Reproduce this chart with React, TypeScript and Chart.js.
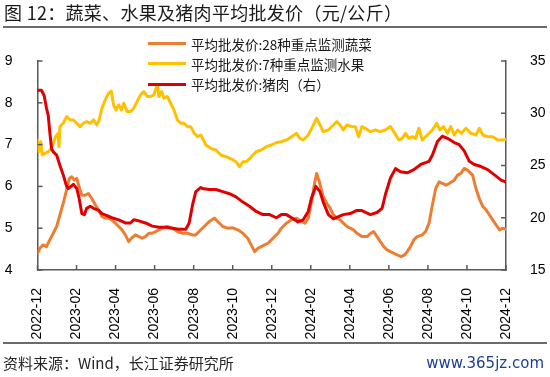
import React, { useEffect, useRef } from "react";
import { Chart, registerables } from "chart.js";

Chart.register(...registerables);

const titleText = "图 12：蔬菜、水果及猪肉平均批发价（元/公斤）";
const sourceText = "资料来源：Wind，长江证券研究所";
const watermarkText = "www.365jz.com";
const seriesNames = ["平均批发价:28种重点监测蔬菜", "平均批发价:7种重点监测水果", "平均批发价:猪肉（右）"];
const seriesColors = ["#ED7D31", "#FFC000", "#E00000"];

const tickLabels = ["2022-12", "2023-02", "2023-04", "2023-06", "2023-08", "2023-10", "2023-12", "2024-02", "2024-04", "2024-06", "2024-08", "2024-10", "2024-12"];

// [months since 2022-12, value]
const vegSeries: [number, number][] = [
  [0, 4.40], [0.12, 4.52], [0.29, 4.60], [0.46, 4.56], [0.63, 4.72], [0.81, 4.88], [0.98, 5.04], [1.15, 5.32], [1.32, 5.60], [1.49, 5.91],
  [1.63, 6.19], [1.75, 6.23], [1.89, 6.15], [2.01, 6.19], [2.13, 5.99], [2.27, 5.79], [2.44, 5.79], [2.61, 5.83], [2.78, 5.71], [2.96, 5.56],
  [3.13, 5.44], [3.30, 5.28], [3.47, 5.24], [3.64, 5.24], [3.81, 5.20], [3.99, 5.12], [4.16, 5.04], [4.33, 4.96], [4.50, 4.84], [4.67, 4.68],
  [4.81, 4.76], [5.02, 4.84], [5.19, 4.80], [5.36, 4.76], [5.53, 4.80], [5.71, 4.88], [5.88, 4.88], [6.05, 4.92], [6.22, 4.96], [6.39, 5.00],
  [6.65, 5.04], [6.91, 5.00], [7.17, 4.92], [7.42, 4.88], [7.68, 4.88], [7.94, 4.84], [8.11, 4.84], [8.28, 4.92],
  [8.54, 5.04], [8.80, 5.16], [9.06, 5.24], [9.23, 5.16], [9.49, 5.04], [9.74, 5.00], [10.00, 5.01], [10.26, 4.96], [10.52, 4.88], [10.77, 4.76],
  [10.95, 4.60], [11.12, 4.44], [11.29, 4.52], [11.46, 4.56], [11.63, 4.60], [11.81, 4.64], [11.98, 4.72], [12.15, 4.80], [12.32, 4.88], [12.49, 5.00],
  [12.75, 5.12], [13.01, 5.20], [13.27, 5.24], [13.53, 5.16], [13.70, 5.12], [13.87, 5.24], [14.04, 5.64], [14.21, 6.11], [14.30, 6.31], [14.44, 6.11],
  [14.61, 5.79], [14.81, 5.60], [14.99, 5.48], [15.16, 5.32], [15.33, 5.24], [15.50, 5.20], [15.67, 5.12], [15.85, 5.04], [16.02, 5.00], [16.19, 4.96],
  [16.36, 4.88], [16.62, 4.80],
  [16.88, 4.80], [17.08, 4.88], [17.22, 4.92], [17.39, 4.80], [17.56, 4.68], [17.74, 4.56], [17.91, 4.48], [18.08, 4.44], [18.25, 4.40], [18.42, 4.36],
  [18.63, 4.32], [18.80, 4.36], [18.94, 4.44], [19.11, 4.56], [19.28, 4.72], [19.45, 4.80], [19.71, 4.84], [19.88, 4.92], [20.06, 5.12], [20.23, 5.56],
  [20.40, 5.95], [20.57, 6.11], [20.74, 6.07], [20.92, 6.03], [21.09, 6.07], [21.35, 6.15], [21.52, 6.27], [21.69, 6.31], [21.86, 6.43], [22.03, 6.39],
  [22.29, 6.27], [22.46, 5.95], [22.63, 5.71], [22.81, 5.52], [22.98, 5.44], [23.15, 5.32], [23.32, 5.20], [23.49, 5.08], [23.67, 4.96], [23.84, 5.00],
  [24.0, 4.97],
];

const fruitSeries: [number, number][] = [
  [0, 7.11], [0.07, 6.83], [0.17, 7.07], [0.24, 6.75], [0.38, 6.79], [0.55, 6.83], [0.72, 6.91], [0.81, 7.03], [0.93, 7.19], [1.06, 7.27],
  [1.10, 6.95], [1.15, 7.43], [1.32, 7.51], [1.49, 7.67], [1.67, 7.59], [1.84, 7.59], [2.01, 7.51], [2.18, 7.43], [2.35, 7.51], [2.52, 7.55],
  [2.70, 7.51], [2.87, 7.59], [3.04, 7.47], [3.16, 7.59], [3.30, 7.87], [3.47, 8.07], [3.64, 8.23], [3.78, 8.28], [3.90, 7.95], [4.02, 7.83],
  [4.16, 7.95], [4.30, 7.83], [4.42, 7.99], [4.59, 7.79], [4.76, 7.79], [4.93, 7.87], [5.10, 8.03], [5.28, 8.19], [5.45, 8.27], [5.62, 8.15],
  [5.79, 8.15], [5.96, 8.19], [6.14, 8.43], [6.22, 8.15], [6.36, 8.27], [6.48, 8.11], [6.65, 8.15], [6.82, 7.99], [6.99, 7.83], [7.17, 7.59],
  [7.34, 7.51], [7.51, 7.51], [7.68, 7.43], [7.85, 7.43], [8.03, 7.27], [8.20, 7.19], [8.37, 7.23],
  [8.63, 6.99], [8.88, 6.91], [9.14, 6.87], [9.40, 6.75], [9.66, 6.71], [9.91, 6.66], [10.17, 6.59], [10.35, 6.47], [10.52, 6.59], [10.69, 6.59],
  [10.86, 6.66], [11.03, 6.75], [11.20, 6.83], [11.46, 6.87], [11.72, 6.95], [11.98, 6.99], [12.24, 7.05], [12.49, 7.07], [12.75, 7.11], [13.01, 7.19],
  [13.27, 7.27], [13.44, 7.15], [13.61, 7.11], [13.87, 7.23], [14.09, 7.43], [14.30, 7.63], [14.47, 7.47], [14.64, 7.31], [14.90, 7.35], [15.16, 7.47],
  [15.33, 7.55], [15.50, 7.47], [15.67, 7.35], [15.85, 7.47], [16.10, 7.43], [16.28, 7.43], [16.45, 7.19], [16.62, 7.43],
  [16.79, 7.39], [17.05, 7.31], [17.31, 7.35], [17.56, 7.31], [17.82, 7.35], [18.08, 7.43], [18.25, 7.31], [18.51, 7.11], [18.68, 7.15], [18.85, 7.27],
  [19.02, 7.15], [19.20, 7.19], [19.37, 7.15], [19.54, 7.39], [19.71, 7.11], [19.97, 7.23], [20.23, 7.35], [20.45, 7.51], [20.62, 7.35], [20.80, 7.43],
  [21.00, 7.27], [21.17, 7.43], [21.35, 7.23], [21.52, 7.35], [21.72, 7.27], [21.95, 7.39], [22.21, 7.27], [22.46, 7.23], [22.63, 7.39], [22.81, 7.23],
  [23.06, 7.19], [23.32, 7.19], [23.58, 7.11], [23.84, 7.11], [24.0, 7.12],
];

const porkSeries: [number, number][] = [
  [0, 32.2], [0.20, 32.2], [0.34, 31.7], [0.46, 30.5], [0.55, 29.8], [0.63, 28.2], [0.72, 26.6], [0.81, 26.3], [0.98, 26.0], [1.15, 25.0],
  [1.32, 24.1], [1.49, 23.0], [1.58, 22.8], [1.84, 23.2], [2.01, 22.8], [2.13, 21.9], [2.27, 20.4], [2.40, 20.3], [2.52, 20.9], [2.70, 21.1],
  [2.87, 20.9], [3.13, 20.7], [3.30, 20.4], [3.56, 20.2], [3.81, 20.0], [4.16, 19.8], [4.50, 19.5], [4.76, 19.5], [4.93, 19.8], [5.19, 19.7],
  [5.53, 19.5], [5.88, 19.2], [6.22, 19.1], [6.57, 19.1], [6.91, 19.0], [7.25, 18.9], [7.60, 18.9], [7.77, 19.5], [7.94, 21.2], [8.11, 22.5],
  [8.37, 22.9],
  [8.45, 22.8], [8.80, 22.7], [9.14, 22.7], [9.49, 22.5], [9.83, 22.3], [10.17, 22.0], [10.52, 21.5], [10.86, 21.1], [11.20, 20.6], [11.55, 20.3],
  [11.89, 20.3], [12.24, 20.0], [12.49, 20.3], [12.75, 20.3], [13.10, 19.9], [13.35, 19.6], [13.61, 19.8], [13.87, 20.6], [14.04, 21.9], [14.26, 23.0],
  [14.47, 22.5], [14.64, 21.5], [14.90, 20.3], [15.16, 19.9], [15.42, 20.1], [15.67, 20.3], [16.02, 20.4], [16.36, 20.7], [16.62, 20.7],
  [16.70, 20.6], [17.05, 20.3], [17.39, 20.5], [17.65, 20.9], [17.82, 22.2], [18.08, 23.8], [18.34, 24.7], [18.59, 24.4], [18.94, 24.3], [19.28, 24.6],
  [19.63, 25.1], [20.06, 25.4], [20.23, 26.0], [20.49, 27.3], [20.74, 27.8], [21.00, 27.6], [21.35, 27.2], [21.60, 27.0], [21.86, 26.4], [22.12, 25.4],
  [22.38, 25.1], [22.72, 24.9], [23.06, 24.6], [23.41, 24.1], [23.75, 23.6], [24.0, 23.4],
];

const AXIS_COLOR = "#595959";
const CJK = '"Noto Sans CJK SC", "Noto Sans", sans-serif';

const toPoints = (s: [number, number][]) => s.map(([x, y]) => ({ x, y }));

const tickMarks = {
  id: "tickMarks",
  afterDraw(chart: any) {
    const ctx = chart.ctx;
    const { left, right, bottom } = chart.chartArea;
    ctx.save();
    ctx.strokeStyle = AXIS_COLOR;
    ctx.lineWidth = 1.5;
    const line = (x1: number, y1: number, x2: number, y2: number) => {
      ctx.beginPath();
      ctx.moveTo(x1, y1);
      ctx.lineTo(x2, y2);
      ctx.stroke();
    };
    const sx = chart.scales.x;
    sx.ticks.forEach((t: any) => {
      const p = sx.getPixelForValue(t.value);
      line(p, bottom, p, bottom - 5);
    });
    const sy = chart.scales.y;
    sy.ticks.forEach((t: any) => {
      const p = sy.getPixelForValue(t.value);
      line(left, p, left + 5, p);
    });
    const sy1 = chart.scales.y1;
    sy1.ticks.forEach((t: any) => {
      const p = sy1.getPixelForValue(t.value);
      line(right, p, right - 5, p);
    });
    ctx.restore();
  },
};

export default function App() {
  const ref = useRef<HTMLCanvasElement | null>(null);

  useEffect(() => {
    if (!ref.current) return;
    const tickFont = { family: '"Liberation Sans", Arial, sans-serif', size: 14 };
    const chart = new Chart(ref.current, {
      type: "line",
      data: {
        datasets: [
          { label: seriesNames[0], data: toPoints(vegSeries), borderColor: seriesColors[0], yAxisID: "y", order: 3 },
          { label: seriesNames[1], data: toPoints(fruitSeries), borderColor: seriesColors[1], yAxisID: "y", order: 2 },
          { label: seriesNames[2], data: toPoints(porkSeries), borderColor: seriesColors[2], yAxisID: "y1", order: 1 },
        ] as any,
      },
      options: {
        animation: false,
        responsive: false,
        devicePixelRatio: 1,
        parsing: false as any,
        layout: { padding: { top: 61, bottom: 37, left: 0, right: 0 } },
        elements: {
          point: { radius: 0 },
          line: { borderWidth: 3, tension: 0, borderJoinStyle: "round", borderCapStyle: "round" },
        },
        plugins: { legend: { display: false }, tooltip: { enabled: false } },
        scales: {
          x: {
            type: "linear",
            min: 0,
            max: 24,
            grid: { display: false },
            border: { display: true, color: AXIS_COLOR, width: 1.5 },
            ticks: {
              stepSize: 2,
              autoSkip: false,
              minRotation: 90,
              maxRotation: 90,
              padding: 10,
              color: "#000",
              font: tickFont,
              callback: (v: any) => tickLabels[Math.round(Number(v) / 2)] ?? "",
            },
            afterFit: (s: any) => { s.height = 70; },
          },
          y: {
            type: "linear",
            position: "left",
            min: 4,
            max: 9,
            grid: { display: false },
            border: { display: true, color: AXIS_COLOR, width: 1.5 },
            ticks: { stepSize: 1, padding: 17, color: "#000", font: tickFont },
            afterFit: (s: any) => { s.width = 37.5; },
          },
          y1: {
            type: "linear",
            position: "right",
            min: 15,
            max: 35,
            grid: { display: false },
            border: { display: true, color: AXIS_COLOR, width: 1.5 },
            ticks: { stepSize: 5, padding: 16, color: "#000", font: tickFont },
            afterFit: (s: any) => { s.width = 44; },
          },
        },
      } as any,
      plugins: [tickMarks],
    });
    return () => chart.destroy();
  }, []);

  const legendRows = [43.5, 63.5, 84];

  return (
    <div style={{ position: "fixed", left: 0, top: 0, width: 550, height: 377, background: "#fff", overflow: "hidden" }}>
      <canvas ref={ref} width={550} height={377} style={{ position: "absolute", left: 0, top: 0, width: 550, height: 377 }} />
      <div style={{ position: "absolute", left: 4, top: 2, fontFamily: CJK, fontSize: 18, lineHeight: "20px", letterSpacing: "0.3px", color: "#1a1a1a", whiteSpace: "nowrap" }}>
        {titleText}
      </div>
      <div style={{ position: "absolute", left: 3, top: 25.5, width: 544, height: 2, background: "#6b6b6b" }} />
      {seriesNames.map((name, i) => (
        <React.Fragment key={name}>
          <div style={{ position: "absolute", left: 148, top: legendRows[i] - 1.5, width: 38, height: 3, background: seriesColors[i] }} />
          <div style={{ position: "absolute", left: 191, top: legendRows[i] - 10, fontFamily: CJK, fontSize: 13.5, lineHeight: "20px", color: "#1a1a1a", whiteSpace: "nowrap" }}>
            {name}
          </div>
        </React.Fragment>
      ))}
      <div style={{ position: "absolute", left: 3, top: 342, width: 544, height: 2, background: "#6b6b6b" }} />
      <div style={{ position: "absolute", left: 3, top: 353, fontFamily: CJK, fontSize: 15, lineHeight: "20px", color: "#262626", whiteSpace: "nowrap" }}>
        {sourceText}
      </div>
      <div style={{ position: "absolute", right: 6, top: 353, fontFamily: '"DejaVu Sans", sans-serif', fontSize: 15, lineHeight: "20px", color: "#1c3f8f", whiteSpace: "nowrap" }}>
        {watermarkText}
      </div>
    </div>
  );
}
